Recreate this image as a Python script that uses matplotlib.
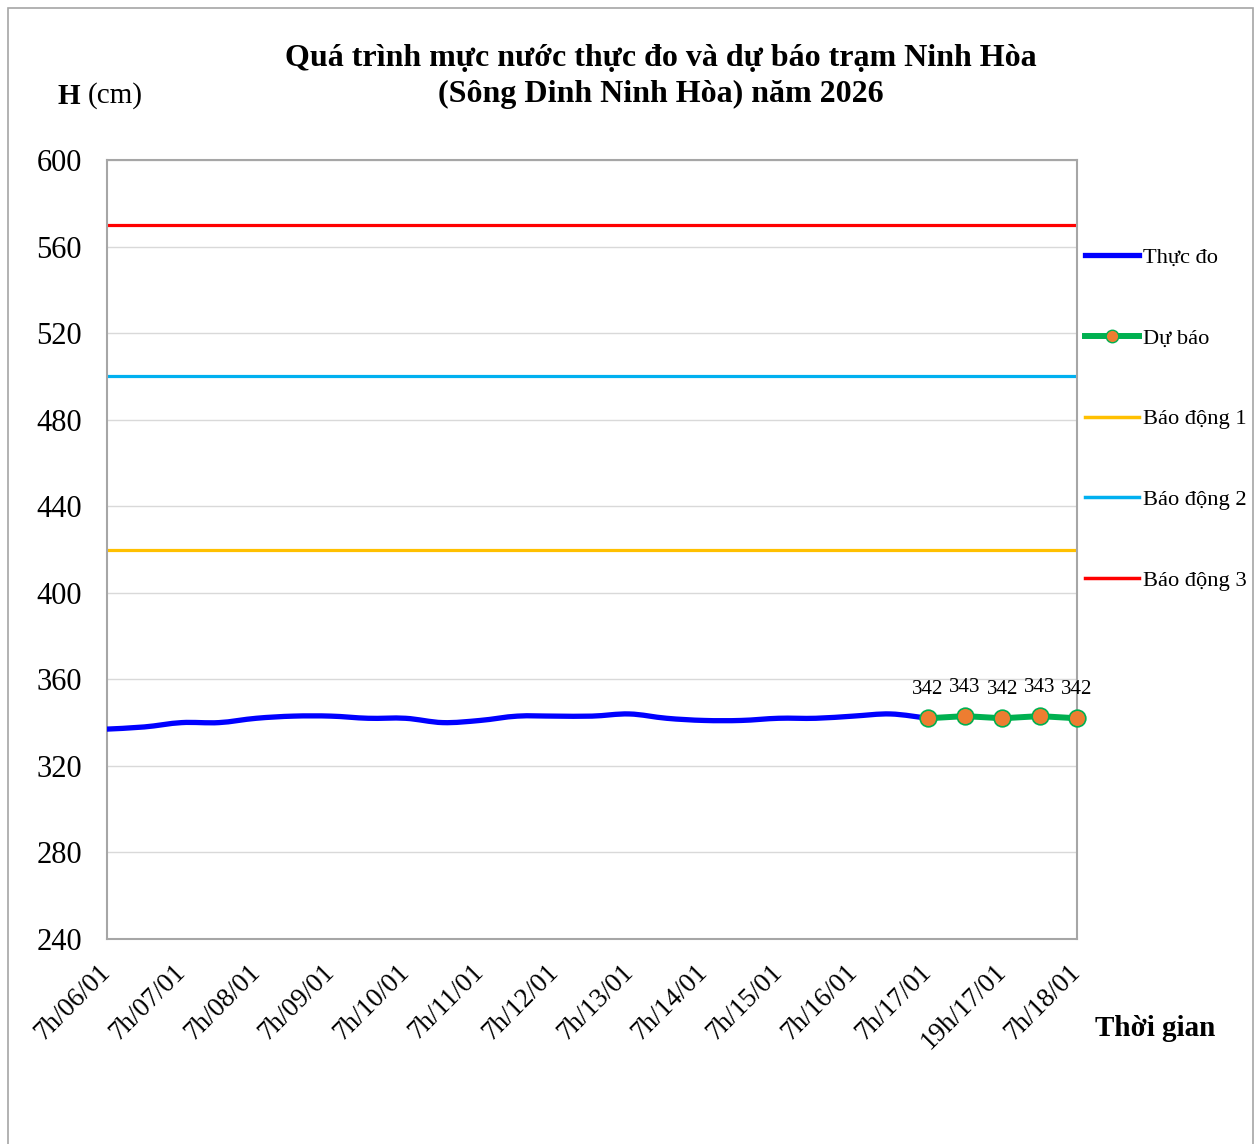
import matplotlib
matplotlib.use('Agg')
import matplotlib.pyplot as plt
from matplotlib.patches import Rectangle, PathPatch
from matplotlib.path import Path
from matplotlib.lines import Line2D

plt.rcParams['font.family'] = ['Liberation Serif', 'DejaVu Serif']

categories = ['7h/06/01', '19h/06/01', '7h/07/01', '19h/07/01', '7h/08/01', '19h/08/01',
              '7h/09/01', '19h/09/01', '7h/10/01', '19h/10/01', '7h/11/01', '19h/11/01',
              '7h/12/01', '19h/12/01', '7h/13/01', '19h/13/01', '7h/14/01', '19h/14/01',
              '7h/15/01', '19h/15/01', '7h/16/01', '19h/16/01', '7h/17/01',
              '13h/17/01', '19h/17/01', '1h/18/01', '7h/18/01']
observed = [337, 338, 340, 340, 342, 343, 343, 342, 342, 340, 341, 343,
            343, 343, 344, 342, 341, 341, 342, 342, 343, 344, 342]
forecast = [342, 343, 342, 343, 342]
alarm1 = 420
alarm2 = 500
alarm3 = 570
yticks = [240, 280, 320, 360, 400, 440, 480, 520, 560, 600]


def smooth_path(xs, ys):
    """Excel-like smoothed line: cubic Bezier segments through the data points."""
    pts = list(zip(xs, ys))
    verts = [pts[0]]
    codes = [Path.MOVETO]
    for i in range(len(pts) - 1):
        p0 = pts[i - 1] if i > 0 else pts[i]
        p1 = pts[i]
        p2 = pts[i + 1]
        p3 = pts[i + 2] if i + 2 < len(pts) else pts[i + 1]
        c1 = (p1[0] + (p2[0] - p0[0]) / 6, p1[1] + (p2[1] - p0[1]) / 6)
        c2 = (p2[0] - (p3[0] - p1[0]) / 6, p2[1] - (p3[1] - p1[1]) / 6)
        verts += [c1, c2, p2]
        codes += [Path.CURVE4] * 3
    return Path(verts, codes)


W, H = 1255, 1144
fig = plt.figure(figsize=(W / 100, H / 100), dpi=100)
fig.patches.append(Rectangle((8 / W, -0.01), (1253 - 8) / W, (H - 8) / H + 0.01,
                             transform=fig.transFigure, fill=False,
                             edgecolor='#a6a6a6', linewidth=1.2))

ax = fig.add_axes([107 / W, 1 - 939 / H, 970 / W, 779 / H])

n = len(categories)
x_obs = list(range(len(observed)))
x_fc = list(range(len(observed) - 1, len(observed) - 1 + len(forecast)))

ax.axhline(alarm1, color='#FFC000', lw=2.3, zorder=2)
ax.axhline(alarm2, color='#00B0F0', lw=2.3, zorder=2)
ax.axhline(alarm3, color='#FF0000', lw=2.3, zorder=2)
ax.add_patch(PathPatch(smooth_path(x_obs, observed), facecolor='none',
                       edgecolor='#0000FF', lw=3.8, capstyle='round',
                       joinstyle='round', zorder=3))
ax.plot(x_fc, forecast, color='#00B050', lw=4.3, marker='o', markersize=12,
        markerfacecolor='#ED7D31', markeredgecolor='#00B050', markeredgewidth=1.2,
        solid_joinstyle='round', zorder=4, clip_on=False)
for xi, v in zip(x_fc, forecast):
    ax.annotate(str(v), (xi, v), xytext=(0, 14), textcoords='offset points',
                ha='center', va='bottom', fontsize=15)

ax.set_xlim(0, n - 1)
ax.set_ylim(240, 600)
ax.set_yticks(yticks)
ax.set_yticklabels([str(t) for t in yticks], fontsize=22)
ax.grid(axis='y', color='#d9d9d9', lw=1)
ax.set_axisbelow(True)
ax.set_xticks(range(0, n, 2))
ax.set_xticklabels(categories[::2], rotation=45, ha='right', va='center',
                   rotation_mode='anchor', fontsize=19.5)
ax.tick_params(axis='x', length=0, pad=21)
ax.tick_params(axis='y', length=0, pad=18)
for s in ax.spines.values():
    s.set_color('#a6a6a6')
    s.set_linewidth(1.5)

fig.text(661 / W, 1 - 58 / H, 'Quá trình mực nước thực đo và dự báo trạm Ninh Hòa',
         ha='center', va='center', fontsize=23, fontweight='bold')
fig.text(661 / W, 1 - 94 / H, '(Sông Dinh Ninh Hòa) năm 2026',
         ha='center', va='center', fontsize=23, fontweight='bold')
fig.text(58 / W, 1 - 96 / H, 'H', ha='left', va='center', fontsize=21, fontweight='bold')
fig.text(88 / W, 1 - 96 / H, '(cm)', ha='left', va='center', fontsize=21)
fig.text(1095 / W, 1 - 1029 / H, 'Thời gian', ha='left', va='center', fontsize=21,
         fontweight='bold')

handles = [
    Line2D([], [], color='#0000FF', lw=3.8),
    Line2D([], [], color='#00B050', lw=4.3, marker='o', markersize=9,
           markerfacecolor='#ED7D31', markeredgecolor='#00B050'),
    Line2D([], [], color='#FFC000', lw=2.5),
    Line2D([], [], color='#00B0F0', lw=2.5),
    Line2D([], [], color='#FF0000', lw=2.5),
]
labels = ['Thực đo', 'Dự báo', 'Báo động 1', 'Báo động 2', 'Báo động 3']
fig.legend(handles, labels, loc='upper left', bbox_to_anchor=(1078 / W, 1 - 240 / H),
           frameon=False, fontsize=16.2, handlelength=2.4, handletextpad=0.2,
           labelspacing=2.675, borderaxespad=0, borderpad=0.3)

fig.savefig('out.png', dpi=100)
